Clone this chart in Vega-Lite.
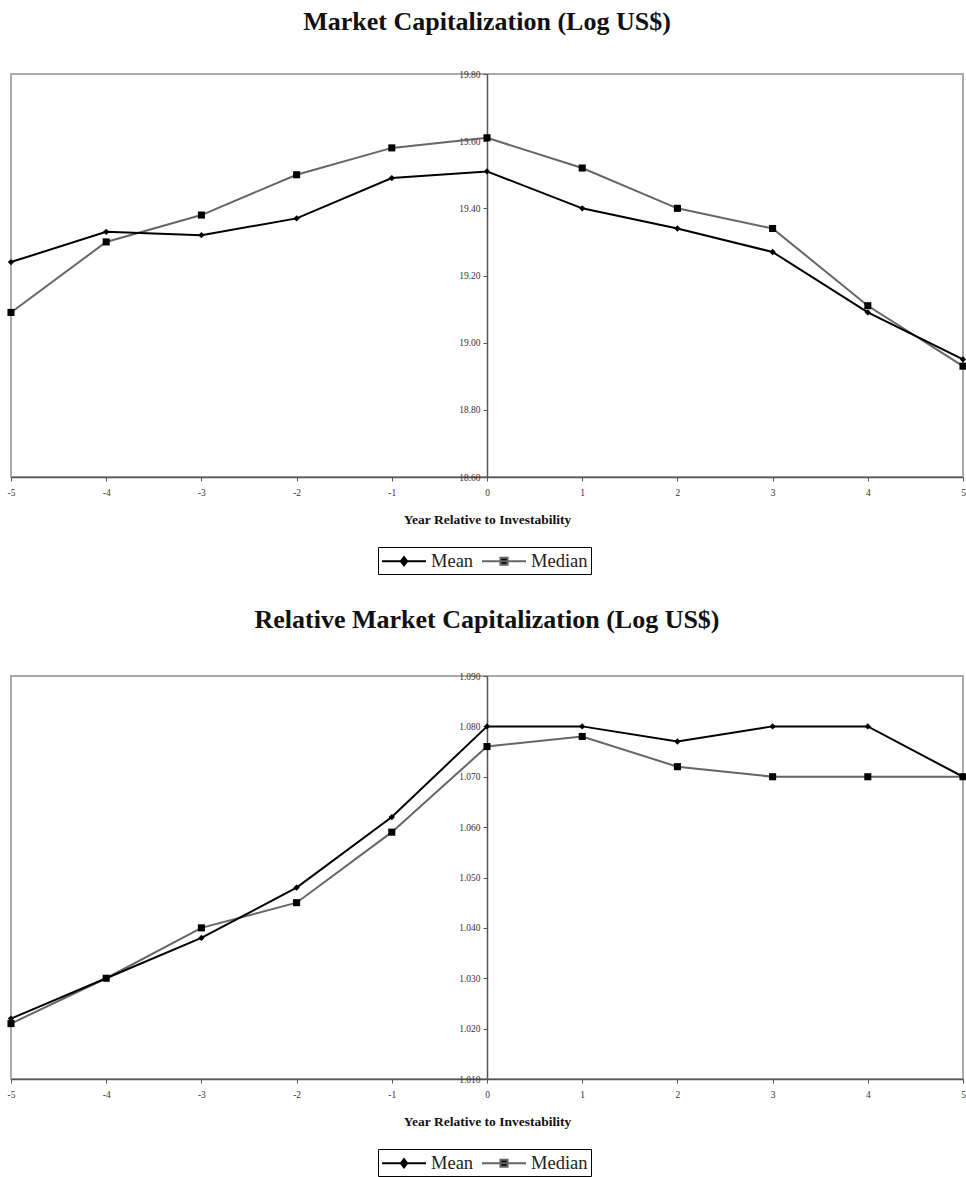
{
  "$schema": "https://vega.github.io/schema/vega-lite/v6.json",
  "background": "white",
  "padding": {"left": 3, "right": 0, "top": 8, "bottom": 0},
  "datasets": {
    "cap": [
      {"year": -5, "series": "Mean", "value": 19.24}, {"year": -4, "series": "Mean", "value": 19.33},
      {"year": -3, "series": "Mean", "value": 19.32}, {"year": -2, "series": "Mean", "value": 19.37},
      {"year": -1, "series": "Mean", "value": 19.49}, {"year": 0, "series": "Mean", "value": 19.51},
      {"year": 1, "series": "Mean", "value": 19.40}, {"year": 2, "series": "Mean", "value": 19.34},
      {"year": 3, "series": "Mean", "value": 19.27}, {"year": 4, "series": "Mean", "value": 19.09},
      {"year": 5, "series": "Mean", "value": 18.95},
      {"year": -5, "series": "Median", "value": 19.09}, {"year": -4, "series": "Median", "value": 19.30},
      {"year": -3, "series": "Median", "value": 19.38}, {"year": -2, "series": "Median", "value": 19.50},
      {"year": -1, "series": "Median", "value": 19.58}, {"year": 0, "series": "Median", "value": 19.61},
      {"year": 1, "series": "Median", "value": 19.52}, {"year": 2, "series": "Median", "value": 19.40},
      {"year": 3, "series": "Median", "value": 19.34}, {"year": 4, "series": "Median", "value": 19.11},
      {"year": 5, "series": "Median", "value": 18.93}
    ],
    "rel": [
      {"year": -5, "series": "Mean", "value": 1.022}, {"year": -4, "series": "Mean", "value": 1.030},
      {"year": -3, "series": "Mean", "value": 1.038}, {"year": -2, "series": "Mean", "value": 1.048},
      {"year": -1, "series": "Mean", "value": 1.062}, {"year": 0, "series": "Mean", "value": 1.080},
      {"year": 1, "series": "Mean", "value": 1.080}, {"year": 2, "series": "Mean", "value": 1.077},
      {"year": 3, "series": "Mean", "value": 1.080}, {"year": 4, "series": "Mean", "value": 1.080},
      {"year": 5, "series": "Mean", "value": 1.070},
      {"year": -5, "series": "Median", "value": 1.021}, {"year": -4, "series": "Median", "value": 1.030},
      {"year": -3, "series": "Median", "value": 1.040}, {"year": -2, "series": "Median", "value": 1.045},
      {"year": -1, "series": "Median", "value": 1.059}, {"year": 0, "series": "Median", "value": 1.076},
      {"year": 1, "series": "Median", "value": 1.078}, {"year": 2, "series": "Median", "value": 1.072},
      {"year": 3, "series": "Median", "value": 1.070}, {"year": 4, "series": "Median", "value": 1.070},
      {"year": 5, "series": "Median", "value": 1.070}
    ]
  },
  "config": {
    "font": "Liberation Serif",
    "view": {"stroke": "#aaaaaa", "strokeWidth": 2},
    "axis": {"grid": false, "labelFont": "Liberation Serif", "labelFontSize": 9.5, "labelColor": "#333333", "domainColor": "#555555", "tickColor": "#555555", "domainWidth": 1.5, "tickSize": 4},
    "title": {"font": "Liberation Serif", "fontSize": 26, "fontWeight": "bold", "color": "#111111", "anchor": "middle"},
    "legend": {"title": null, "orient": "none", "legendX": 367, "legendY": 473, "direction": "horizontal", "strokeColor": "#000000", "padding": 3, "symbolSize": 400, "symbolOffset": 12, "symbolStrokeWidth": 2, "symbolFillColor": "#000000", "labelFont": "Liberation Serif", "labelFontSize": 18.5, "labelColor": "#222222", "labelOffset": 16, "columnPadding": 4},
    "concat": {"spacing": 30}
  },
  "resolve": {"scale": {"y": "independent", "shape": "independent", "stroke": "independent"}, "legend": {"shape": "independent", "stroke": "independent"}},
  "vconcat": [
    {
      "title": {"text": "Market Capitalization (Log US$)", "offset": 34},
      "width": 952, "height": 403,
      "data": {"name": "cap"},
      "encoding": {
        "x": {"field": "year", "type": "quantitative", "scale": {"domain": [-5, 5], "nice": false},
              "axis": {"values": [-5,-4,-3,-2,-1,0,1,2,3,4,5], "labelExpr": "'' + datum.value", "labelFlush": false, "labelPadding": 6, "title": "Year Relative to Investability", "titleFont": "Liberation Serif", "titleFontSize": 13.5, "titleFontWeight": "bold", "titleColor": "#111111", "titlePadding": 16}},
        "y": {"field": "value", "type": "quantitative", "scale": {"domain": [18.6, 19.8], "nice": false, "zero": false},
              "axis": {"offset": -476, "values": [18.6, 18.8, 19.0, 19.2, 19.4, 19.6, 19.8], "format": ".2f", "title": null, "labelPadding": 3}}
      },
      "layer": [
        {"transform": [{"filter": "datum.series === 'Median'"}], "mark": {"type": "line", "color": "#666666", "strokeWidth": 2}},
        {"transform": [{"filter": "datum.series === 'Mean'"}], "mark": {"type": "line", "color": "#000000", "strokeWidth": 2}},
        {"transform": [{"filter": "datum.series === 'Mean'"}], "mark": {"type": "point", "shape": "diamond", "filled": true, "color": "#000000", "opacity": 1, "size": 40, "clip": false}},
        {"transform": [{"filter": "datum.series === 'Median'"}], "mark": {"type": "point", "shape": "square", "filled": true, "color": "#000000", "opacity": 1, "size": 50, "clip": false}},
        {"mark": {"type": "point", "opacity": 0, "filled": true, "fill": "#000000"},
         "encoding": {
           "shape": {"field": "series", "type": "nominal", "scale": {"domain": ["Mean", "Median"], "range": ["M-2.2,0L2.2,0M0,-0.42L0.32,0L0,0.42L-0.32,0Z", "M-2.2,0L2.2,0M-0.36,-0.36L0.36,-0.36L0.36,0.36L-0.36,0.36Z"]},
                     "legend": {"encode": {"legend": {"update": {"strokeWidth": {"value": 1.5}}}, "symbols": {"update": {"opacity": {"value": 1}, "fill": {"value": "#000000"}, "fillOpacity": {"value": 1}}}}}},
           "stroke": {"field": "series", "type": "nominal", "scale": {"domain": ["Mean", "Median"], "range": ["#000000", "#666666"]},
                      "legend": {"encode": {"legend": {"update": {"strokeWidth": {"value": 1.5}}}, "symbols": {"update": {"opacity": {"value": 1}, "fill": {"value": "#000000"}, "fillOpacity": {"value": 1}}}}}}
         }}
      ]
    },
    {
      "title": {"text": "Relative Market Capitalization (Log US$)", "offset": 38},
      "width": 952, "height": 403,
      "data": {"name": "rel"},
      "encoding": {
        "x": {"field": "year", "type": "quantitative", "scale": {"domain": [-5, 5], "nice": false},
              "axis": {"values": [-5,-4,-3,-2,-1,0,1,2,3,4,5], "labelExpr": "'' + datum.value", "labelFlush": false, "labelPadding": 6, "title": "Year Relative to Investability", "titleFont": "Liberation Serif", "titleFontSize": 13.5, "titleFontWeight": "bold", "titleColor": "#111111", "titlePadding": 16}},
        "y": {"field": "value", "type": "quantitative", "scale": {"domain": [1.01, 1.09], "nice": false, "zero": false},
              "axis": {"offset": -476, "values": [1.01, 1.02, 1.03, 1.04, 1.05, 1.06, 1.07, 1.08, 1.09], "format": ".3f", "title": null, "labelPadding": 3}}
      },
      "layer": [
        {"transform": [{"filter": "datum.series === 'Median'"}], "mark": {"type": "line", "color": "#666666", "strokeWidth": 2}},
        {"transform": [{"filter": "datum.series === 'Mean'"}], "mark": {"type": "line", "color": "#000000", "strokeWidth": 2}},
        {"transform": [{"filter": "datum.series === 'Mean'"}], "mark": {"type": "point", "shape": "diamond", "filled": true, "color": "#000000", "opacity": 1, "size": 40, "clip": false}},
        {"transform": [{"filter": "datum.series === 'Median'"}], "mark": {"type": "point", "shape": "square", "filled": true, "color": "#000000", "opacity": 1, "size": 50, "clip": false}},
        {"mark": {"type": "point", "opacity": 0, "filled": true, "fill": "#000000"},
         "encoding": {
           "shape": {"field": "series", "type": "nominal", "scale": {"domain": ["Mean", "Median"], "range": ["M-2.2,0L2.2,0M0,-0.42L0.32,0L0,0.42L-0.32,0Z", "M-2.2,0L2.2,0M-0.36,-0.36L0.36,-0.36L0.36,0.36L-0.36,0.36Z"]},
                     "legend": {"encode": {"legend": {"update": {"strokeWidth": {"value": 1.5}}}, "symbols": {"update": {"opacity": {"value": 1}, "fill": {"value": "#000000"}, "fillOpacity": {"value": 1}}}}}},
           "stroke": {"field": "series", "type": "nominal", "scale": {"domain": ["Mean", "Median"], "range": ["#000000", "#666666"]},
                      "legend": {"encode": {"legend": {"update": {"strokeWidth": {"value": 1.5}}}, "symbols": {"update": {"opacity": {"value": 1}, "fill": {"value": "#000000"}, "fillOpacity": {"value": 1}}}}}}
         }}
      ]
    }
  ]
}
